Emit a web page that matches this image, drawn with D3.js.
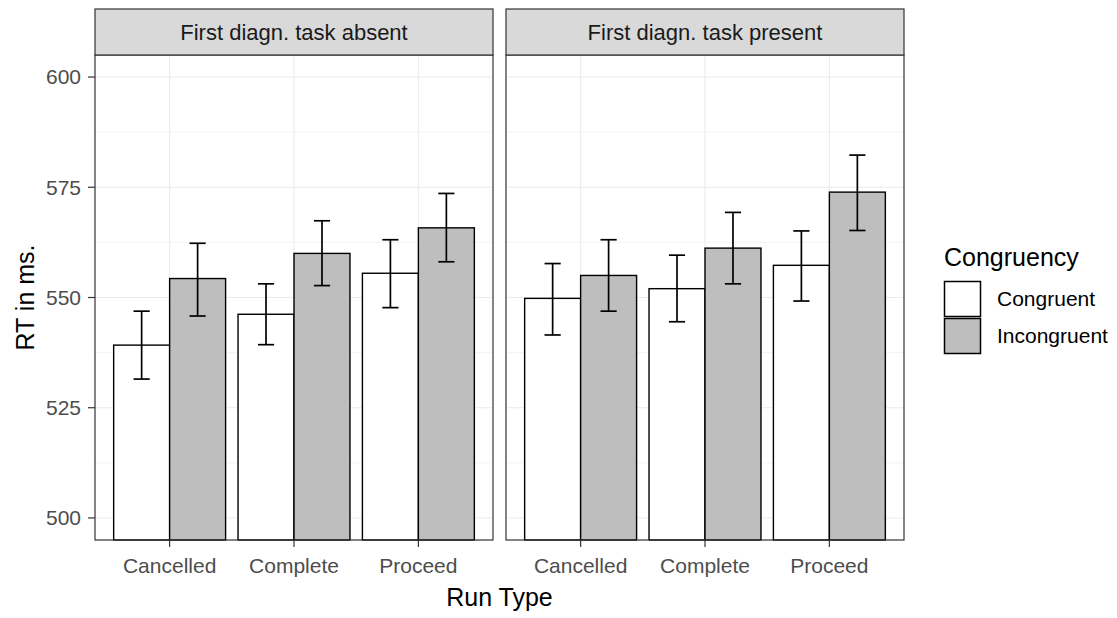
<!DOCTYPE html>
<html>
<head>
<meta charset="utf-8">
<script src="https://cdn.jsdelivr.net/npm/d3@7"></script>
<style>
  body { margin: 0; background: #fff; }
  svg { display: block; font-family: "Liberation Sans", Arial, sans-serif; }
</style>
</head>
<body>
<div id="chart"></div>
<script>
// Données
const facets = ["First diagn. task absent", "First diagn. task present"];
const runTypes = ["Cancelled", "Complete", "Proceed"];
const congruency = ["Congruent", "Incongruent"];
const yTicks = [500, 525, 550, 575, 600];

// moyennes et bornes des barres d'erreur, dans l'ordre de runTypes
const absentCongMean = [539.2, 546.2, 555.5];
const absentCongLow = [531.5, 539.3, 547.7];
const absentCongHigh = [546.9, 553.1, 563.1];
const absentIncongMean = [554.3, 560.0, 565.8];
const absentIncongLow = [545.8, 552.7, 558.1];
const absentIncongHigh = [562.3, 567.4, 573.6];
const presentCongMean = [549.8, 552.0, 557.3];
const presentCongLow = [541.5, 544.5, 549.2];
const presentCongHigh = [557.7, 559.6, 565.1];
const presentIncongMean = [555.0, 561.2, 573.9];
const presentIncongLow = [546.9, 553.1, 565.2];
const presentIncongHigh = [563.1, 569.3, 582.3];

const fills = { Congruent: "#FFFFFF", Incongruent: "#BEBEBE" };

// Table longue
const series = [
  { facet: facets[0], cong: "Congruent", mean: absentCongMean, low: absentCongLow, high: absentCongHigh },
  { facet: facets[0], cong: "Incongruent", mean: absentIncongMean, low: absentIncongLow, high: absentIncongHigh },
  { facet: facets[1], cong: "Congruent", mean: presentCongMean, low: presentCongLow, high: presentCongHigh },
  { facet: facets[1], cong: "Incongruent", mean: presentIncongMean, low: presentIncongLow, high: presentIncongHigh }
];
const data = series.flatMap(s => runTypes.map((rt, i) => ({
  facet: s.facet, cong: s.cong, run: rt, mean: s.mean[i], low: s.low[i], high: s.high[i]
})));

// Dimensions
const W = 1117, H = 618;
const panelTop = 55, panelBottom = 540, stripTop = 9;

const svg = d3.select("#chart").append("svg")
  .attr("width", W).attr("height", H);

// Échelles
const fx = d3.scaleBand().domain(facets).range([95, 904]).paddingInner(0.0316);
const pw = fx.bandwidth();
const x = d3.scalePoint().domain(runTypes).range([0, pw]).padding(0.6);
const unit = x.step();
const xd = d3.scaleBand().domain(congruency).range([-0.45 * unit, 0.45 * unit]);
const y = d3.scaleLinear().domain([495, 605]).range([panelBottom, panelTop]);
const minorTicks = d3.range(512.5, 605, 25);

facets.forEach((f, fi) => {
  const g = svg.append("g").attr("transform", `translate(${fx(f)},0)`);

  // fond du panneau
  g.append("rect")
    .attr("x", 0).attr("y", panelTop)
    .attr("width", pw).attr("height", panelBottom - panelTop)
    .attr("fill", "#fff");

  // grille mineure
  g.selectAll(".minor").data(minorTicks).enter().append("line")
    .attr("x1", 0).attr("x2", pw)
    .attr("y1", d => y(d)).attr("y2", d => y(d))
    .attr("stroke", "#EBEBEB").attr("stroke-width", 0.6);

  // grille majeure
  g.selectAll(".major-y").data(yTicks).enter().append("line")
    .attr("x1", 0).attr("x2", pw)
    .attr("y1", d => y(d)).attr("y2", d => y(d))
    .attr("stroke", "#EBEBEB").attr("stroke-width", 1.1);
  g.selectAll(".major-x").data(runTypes).enter().append("line")
    .attr("x1", d => x(d)).attr("x2", d => x(d))
    .attr("y1", panelTop).attr("y2", panelBottom)
    .attr("stroke", "#EBEBEB").attr("stroke-width", 1.1);

  const pd = data.filter(d => d.facet === f);

  // barres
  g.selectAll(".bar").data(pd).enter().append("rect")
    .attr("x", d => x(d.run) + xd(d.cong))
    .attr("width", xd.bandwidth())
    .attr("y", d => y(d.mean))
    .attr("height", d => y(495) - y(d.mean))
    .attr("fill", d => fills[d.cong])
    .attr("stroke", "#000").attr("stroke-width", 1.4);

  // barres d'erreur
  const cap = 0.065 * unit;
  const eb = g.selectAll(".err").data(pd).enter().append("g")
    .attr("stroke", "#000").attr("stroke-width", 1.7);
  const cx = d => x(d.run) + xd(d.cong) + xd.bandwidth() / 2;
  eb.append("line")
    .attr("x1", cx).attr("x2", cx)
    .attr("y1", d => y(d.low)).attr("y2", d => y(d.high));
  eb.append("line")
    .attr("x1", d => cx(d) - cap).attr("x2", d => cx(d) + cap)
    .attr("y1", d => y(d.low)).attr("y2", d => y(d.low));
  eb.append("line")
    .attr("x1", d => cx(d) - cap).attr("x2", d => cx(d) + cap)
    .attr("y1", d => y(d.high)).attr("y2", d => y(d.high));

  // bordure du panneau
  g.append("rect")
    .attr("x", 0).attr("y", panelTop)
    .attr("width", pw).attr("height", panelBottom - panelTop)
    .attr("fill", "none").attr("stroke", "#333").attr("stroke-width", 1.2);

  // bandeau
  g.append("rect")
    .attr("x", 0).attr("y", stripTop)
    .attr("width", pw).attr("height", panelTop - stripTop)
    .attr("fill", "#D9D9D9").attr("stroke", "#333").attr("stroke-width", 1.2);
  g.append("text")
    .attr("x", pw / 2).attr("y", (stripTop + panelTop) / 2)
    .attr("dy", "0.35em")
    .attr("text-anchor", "middle")
    .attr("fill", "#1A1A1A")
    .style("font-size", "22px")
    .text(f);

  // axe x
  const xa = g.append("g").attr("transform", `translate(0,${panelBottom})`);
  xa.selectAll("line").data(runTypes).enter().append("line")
    .attr("x1", d => x(d)).attr("x2", d => x(d))
    .attr("y1", 0).attr("y2", 7)
    .attr("stroke", "#333").attr("stroke-width", 1.2);
  xa.selectAll("text").data(runTypes).enter().append("text")
    .attr("x", d => x(d)).attr("y", 33)
    .attr("text-anchor", "middle")
    .attr("fill", "#4D4D4D")
    .style("font-size", "21px")
    .text(d => d);

  // axe y (panneau gauche seulement)
  if (fi === 0) {
    const ya = g.append("g");
    ya.selectAll("line").data(yTicks).enter().append("line")
      .attr("x1", -7).attr("x2", 0)
      .attr("y1", d => y(d)).attr("y2", d => y(d))
      .attr("stroke", "#333").attr("stroke-width", 1.2);
    ya.selectAll("text").data(yTicks).enter().append("text")
      .attr("x", -14).attr("y", d => y(d))
      .attr("dy", "0.35em")
      .attr("text-anchor", "end")
      .attr("fill", "#4D4D4D")
      .style("font-size", "21px")
      .text(d => d);
  }
});

// Titres des axes
svg.append("text")
  .attr("x", (95 + 904) / 2).attr("y", 606)
  .attr("text-anchor", "middle")
  .attr("fill", "#000")
  .style("font-size", "25px")
  .text("Run Type");

svg.append("text")
  .attr("transform", `translate(34,${(panelTop + panelBottom) / 2}) rotate(-90)`)
  .attr("text-anchor", "middle")
  .attr("fill", "#000")
  .style("font-size", "25px")
  .text("RT in ms.");

// Légende
const legend = svg.append("g").attr("transform", "translate(944,0)");
legend.append("text")
  .attr("x", 0).attr("y", 266)
  .attr("fill", "#000")
  .style("font-size", "25px")
  .text("Congruency");

const items = legend.selectAll(".item").data(congruency).enter().append("g")
  .attr("transform", (d, i) => `translate(0,${281 + i * 37})`);
items.append("rect")
  .attr("x", 0.5).attr("y", 0.5)
  .attr("width", 36).attr("height", 35)
  .attr("fill", d => fills[d])
  .attr("stroke", "#000").attr("stroke-width", 1.5);
items.append("text")
  .attr("x", 53).attr("y", 18)
  .attr("dy", "0.35em")
  .attr("fill", "#000")
  .style("font-size", "21px")
  .text(d => d);
</script>
</body>
</html>
